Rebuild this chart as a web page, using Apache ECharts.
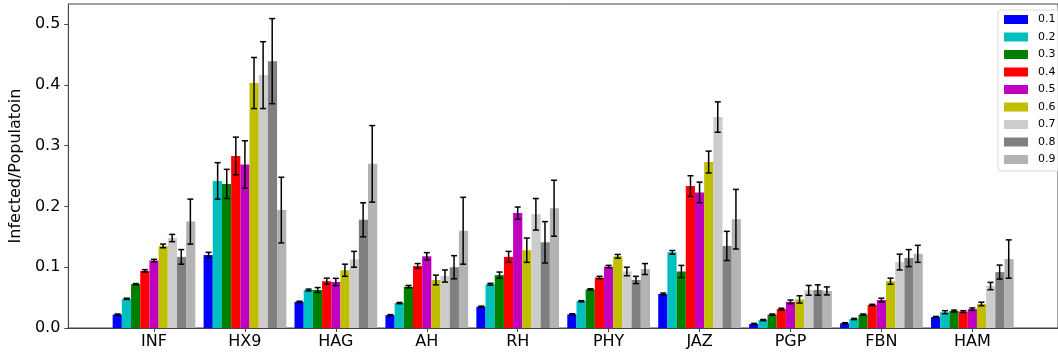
<!DOCTYPE html>
<html>
<head>
<meta charset="utf-8">
<script src="https://cdn.jsdelivr.net/npm/echarts@6/dist/echarts.min.js"></script>
<style>
  html, body { margin: 0; padding: 0; background: #fff; }
  #chart { width: 1058px; height: 354px; }
</style>
</head>
<body>
<div id="chart"></div>
<script>
// categories on the x axis
const categories = ["INF", "HX9", "HAG", "AH", "RH", "PHY", "JAZ", "PGP", "FBN", "HAM"];
const levels = ["0.1", "0.2", "0.3", "0.4", "0.5", "0.6", "0.7", "0.8", "0.9"];
const colors = ["#0000ff", "#00bfbf", "#008000", "#ff0000", "#bf00bf", "#bfbf00", "#cccccc", "#808080", "#b3b3b3"];

// mean infected/population per level
const s01 = [0.022, 0.120, 0.043, 0.021, 0.035, 0.0225, 0.056, 0.0066, 0.0077, 0.018];
const s02 = [0.048, 0.242, 0.0625, 0.041, 0.072, 0.044, 0.1245, 0.013, 0.0148, 0.026];
const s03 = [0.072, 0.237, 0.0625, 0.068, 0.087, 0.0636, 0.093, 0.022, 0.022, 0.028];
const s04 = [0.094, 0.283, 0.077, 0.102, 0.117, 0.083, 0.2335, 0.031, 0.038, 0.027];
const s05 = [0.111, 0.269, 0.0757, 0.118, 0.189, 0.101, 0.223, 0.043, 0.046, 0.031];
const s06 = [0.135, 0.403, 0.095, 0.079, 0.128, 0.118, 0.273, 0.047, 0.077, 0.0395];
const s07 = [0.148, 0.416, 0.113, 0.0855, 0.187, 0.093, 0.347, 0.062, 0.1085, 0.069];
const s08 = [0.117, 0.439, 0.178, 0.100, 0.141, 0.079, 0.135, 0.0625, 0.115, 0.092];
const s09 = [0.175, 0.194, 0.270, 0.160, 0.197, 0.097, 0.179, 0.061, 0.122, 0.1135];

// error (half length of the bar)
const e01 = [0.001, 0.0045, 0.001, 0.001, 0.001, 0.001, 0.0015, 0.001, 0.001, 0.001];
const e02 = [0.001, 0.030, 0.0015, 0.001, 0.0015, 0.001, 0.003, 0.001, 0.001, 0.0025];
const e03 = [0.001, 0.024, 0.004, 0.002, 0.005, 0.001, 0.010, 0.001, 0.001, 0.0015];
const e04 = [0.002, 0.031, 0.005, 0.004, 0.009, 0.002, 0.017, 0.0015, 0.001, 0.0015];
const e05 = [0.002, 0.039, 0.006, 0.006, 0.010, 0.002, 0.017, 0.003, 0.003, 0.002];
const e06 = [0.003, 0.042, 0.010, 0.008, 0.020, 0.003, 0.018, 0.006, 0.005, 0.003];
const e07 = [0.006, 0.055, 0.013, 0.010, 0.026, 0.007, 0.025, 0.008, 0.013, 0.006];
const e08 = [0.012, 0.070, 0.028, 0.019, 0.034, 0.006, 0.024, 0.0085, 0.014, 0.0115];
const e09 = [0.037, 0.054, 0.063, 0.055, 0.046, 0.009, 0.049, 0.0066, 0.014, 0.0315];

const yTicks = [0, 0.1, 0.2, 0.3, 0.4, 0.5];

const means = [s01, s02, s03, s04, s05, s06, s07, s08, s09];
const errs = [e01, e02, e03, e04, e05, e06, e07, e08, e09];

const font = "DejaVu Sans";
const xMin = -0.942, xMax = 9.942;
const gridW = 1000;
const barUnit = 0.1; // width of a single bar in x units
const barPx = gridW / (xMax - xMin) * barUnit;
const spine = "#444";

const chart = echarts.init(document.getElementById("chart"), null, { renderer: "canvas" });

const series = [];
levels.forEach((lv, j) => {
  series.push({
    name: lv,
    type: "bar",
    barWidth: barPx,
    barGap: "0%",
    itemStyle: { color: colors[j] },
    data: means[j].map((v, i) => [i, v]),
    animation: false,
  });
});

// error bars on top
const errData = [];
levels.forEach((lv, j) => {
  means[j].forEach((v, i) => {
    const x = i + (j - 4) * barUnit;
    errData.push([x, v - errs[j][i], v + errs[j][i]]);
  });
});
series.push({
  type: "custom",
  z: 10,
  silent: true,
  animation: false,
  data: errData,
  renderItem: (params, api) => {
    const lo = api.coord([api.value(0), api.value(1)]);
    const hi = api.coord([api.value(0), api.value(2)]);
    const cap = 3;
    const style = { stroke: "#000", lineWidth: 1.5 };
    return {
      type: "group",
      children: [
        { type: "line", shape: { x1: lo[0], y1: lo[1], x2: hi[0], y2: hi[1] }, style },
        { type: "line", shape: { x1: lo[0] - cap, y1: lo[1], x2: lo[0] + cap, y2: lo[1] }, style },
        { type: "line", shape: { x1: hi[0] - cap, y1: hi[1], x2: hi[0] + cap, y2: hi[1] }, style },
      ],
    };
  },
});

chart.setOption({
  animation: false,
  backgroundColor: "#fff",
  textStyle: { fontFamily: font },
  grid: {
    left: 67, top: 4, width: gridW, height: 324,
    show: true, borderColor: spine, borderWidth: 1,
  },
  legend: {
    orient: "vertical",
    left: 998, top: 10,
    icon: "rect",
    itemWidth: 24, itemHeight: 9,
    itemGap: 6.5,
    padding: [4, 30, 6, 6],
    borderColor: "#d9d9d9", borderWidth: 1, borderRadius: 3,
    backgroundColor: "rgba(255,255,255,0.8)",
    data: levels,
    textStyle: { fontFamily: font, fontSize: 11, color: "#000", lineHeight: 11, padding: [0, 0, 0, 5] },
  },
  xAxis: {
    type: "value",
    min: xMin, max: xMax,
    axisLine: { show: true, onZero: false, lineStyle: { color: spine, width: 1 } },
    axisTick: { show: true, customValues: categories.map((c, i) => i), length: 4, lineStyle: { color: spine } },
    axisLabel: {
      customValues: categories.map((c, i) => i),
      formatter: (v) => categories[Math.round(v)],
      fontFamily: font, fontSize: 16, color: "#000", margin: 6,
    },
    splitLine: { show: false },
  },
  yAxis: {
    type: "value",
    min: 0, max: 0.533,
    name: "Infected/Populatoin",
    nameLocation: "middle",
    nameGap: 38,
    nameTextStyle: { fontFamily: font, fontSize: 16, color: "#000" },
    axisLine: { show: true, onZero: false, lineStyle: { color: spine, width: 1 } },
    axisTick: { show: true, customValues: yTicks, length: 4, lineStyle: { color: spine } },
    axisLabel: {
      customValues: yTicks,
      formatter: (v) => v.toFixed(1),
      fontFamily: font, fontSize: 16, color: "#000", margin: 8,
    },
    splitLine: { show: false },
  },
  series,
});
</script>
</body>
</html>
